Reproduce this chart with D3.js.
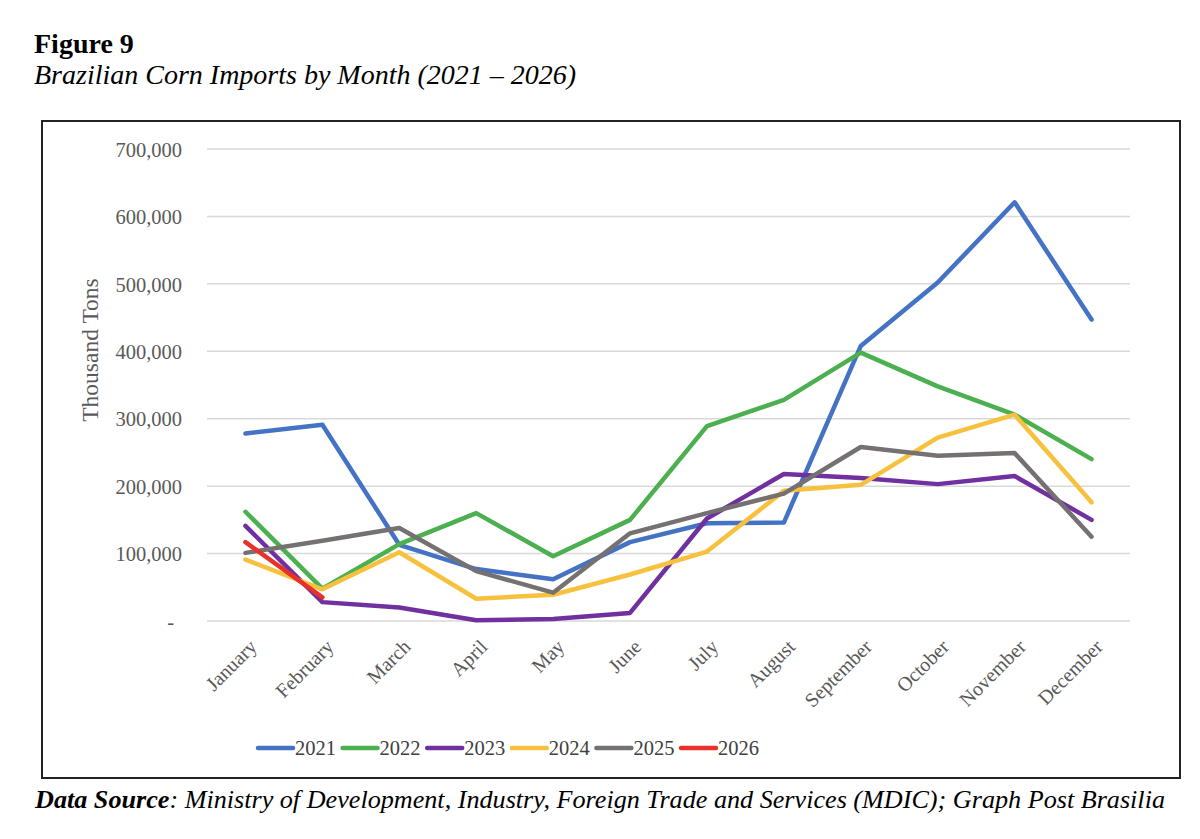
<!DOCTYPE html>
<html>
<head>
<meta charset="utf-8">
<script src="https://cdn.jsdelivr.net/npm/d3@7"></script>
<style>
  body { margin: 0; background: #fff; }
  svg { display: block; font-family: "Liberation Serif", "Times New Roman", serif; }
</style>
</head>
<body>
<div id="chart"></div>
<script>
// data
const months = ["January", "February", "March", "April", "May", "June",
  "July", "August", "September", "October", "November", "December"];
const years = ["2021", "2022", "2023", "2024", "2025", "2026"];
const colors = ["#4472C4", "#4CAF50", "#7030A0", "#F7C13E", "#767171", "#E8312A"];

const v2021 = [278000, 291000, 113000, 77000, 62000, 117000, 145000, 146000, 408000, 502000, 621000, 447000];
const v2022 = [162000, 48000, 114000, 160000, 96000, 150000, 289000, 328000, 398000, 348000, 306000, 240000];
const v2023 = [141000, 28000, 20000, 1000, 3000, 12000, 152000, 218000, 212000, 203000, 215000, 150000];
const v2024 = [91000, 47000, 102000, 33000, 39000, 69000, 103000, 193000, 202000, 272000, 306000, 176000];
const v2025 = [101000, 119000, 138000, 74000, 42000, 130000, 160000, 189000, 258000, 245000, 249000, 125000];
const v2026 = [117000, 35000];
const series = [v2021, v2022, v2023, v2024, v2025, v2026];

const yTicks = [0, 100000, 200000, 300000, 400000, 500000, 600000, 700000];

const W = 1200, H = 839;
const svg = d3.select("#chart").append("svg").attr("width", W).attr("height", H);

// titles
svg.append("text").attr("x", 34).attr("y", 53)
  .attr("font-size", 28).attr("font-weight", "bold").text("Figure 9");
svg.append("text").attr("x", 34).attr("y", 84)
  .attr("font-size", 28).attr("font-style", "italic")
  .text("Brazilian Corn Imports by Month (2021 \u2013 2026)");

// frame
svg.append("rect").attr("x", 42).attr("y", 121).attr("width", 1138).attr("height", 657)
  .attr("fill", "none").attr("stroke", "#222").attr("stroke-width", 2);

const x = d3.scalePoint().domain(months).range([207, 1130]).padding(0.5);
const y = d3.scaleLinear().domain([0, 700000]).range([621, 149]);

// gridlines
svg.append("g").selectAll("line").data(yTicks).join("line")
  .attr("x1", 207).attr("x2", 1130)
  .attr("y1", d => y(d)).attr("y2", d => y(d))
  .attr("stroke", "#d9d9d9").attr("stroke-width", 1.5);

// y axis
const yAxis = svg.append("g").attr("transform", "translate(182,0)")
  .call(d3.axisLeft(y).tickValues(yTicks).tickSize(0).tickPadding(0)
    .tickFormat(d => d === 0 ? "-" : d3.format(",")(d)));
yAxis.select(".domain").remove();
yAxis.selectAll("text").attr("font-size", 20.5).attr("fill", "#595959")
  .attr("font-family", "Liberation Serif, serif").attr("dy", "0.35em");
yAxis.selectAll(".tick").filter(d => d === 0).select("text").attr("dx", -8);

svg.append("text").attr("transform", "translate(98,350) rotate(-90)")
  .attr("text-anchor", "middle").attr("font-size", 23.5).attr("fill", "#595959")
  .text("Thousand Tons");

// x axis labels
const xAxis = svg.append("g").attr("transform", "translate(0,621)")
  .call(d3.axisBottom(x).tickSize(0).tickPadding(0));
xAxis.select(".domain").remove();
xAxis.selectAll("text")
  .attr("font-size", 20).attr("fill", "#595959")
  .attr("font-family", "Liberation Serif, serif")
  .attr("text-anchor", "end")
  .attr("dy", null)
  .attr("transform", "translate(12,27) rotate(-45)");

// lines
const line = d3.line().x((d, i) => x(months[i])).y(d => y(d));
svg.append("g").selectAll("path").data(series).join("path")
  .attr("d", d => line(d))
  .attr("fill", "none")
  .attr("stroke", (d, i) => colors[i])
  .attr("stroke-width", 4.5)
  .attr("stroke-linejoin", "round")
  .attr("stroke-linecap", "round");

// legend
const legend = svg.append("g").selectAll("g").data(years).join("g")
  .attr("transform", (d, i) => `translate(${258 + i * 84.6},748)`);
legend.append("line").attr("x1", 0).attr("x2", 35).attr("y1", 0).attr("y2", 0)
  .attr("stroke", (d, i) => colors[i]).attr("stroke-width", 4.5).attr("stroke-linecap", "round");
legend.append("text").attr("x", 37).attr("y", 7)
  .attr("font-size", 20.5).attr("fill", "#404040").text(d => d);

// source note
const src = svg.append("text").attr("x", 35).attr("y", 808)
  .attr("font-size", 25).attr("font-style", "italic")
  .attr("textLength", 1130).attr("lengthAdjust", "spacingAndGlyphs");
src.append("tspan").attr("font-weight", "bold").text("Data Source");
src.append("tspan").text(": Ministry of Development, Industry, Foreign Trade and Services (MDIC); Graph Post Brasilia");
</script>
</body>
</html>
